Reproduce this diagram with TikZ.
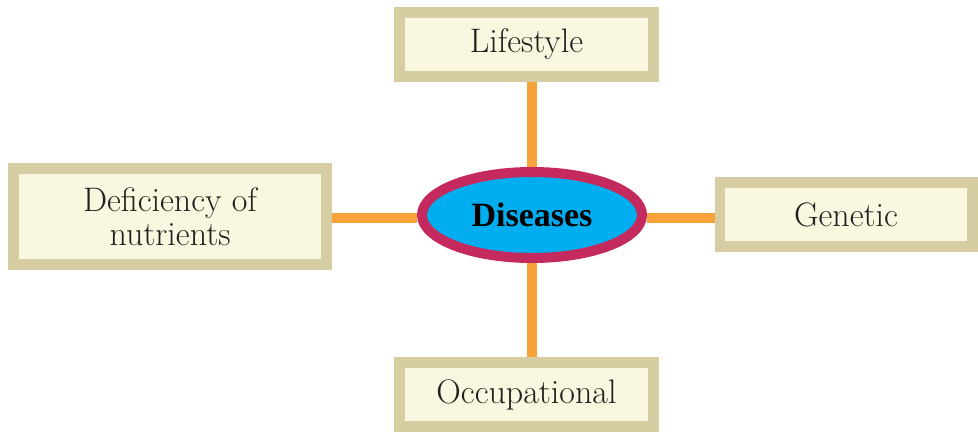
\documentclass[tikz,border=0pt]{standalone}
\usepackage{fontspec}
\newfontfamily\headfont{Liberation Serif}
\usetikzlibrary{shapes.geometric,backgrounds}
\definecolor{boxline}{RGB}{214,205,163}
\definecolor{boxfill}{RGB}{250,247,224}
\definecolor{linkline}{RGB}{248,163,58}
\definecolor{hubfill}{RGB}{0,173,238}
\definecolor{hubline}{RGB}{197,42,94}
\definecolor{txt}{RGB}{35,31,32}

\begin{document}
\begin{tikzpicture}[
  x=0.75pt, y=-0.75pt,
  box/.style={draw=boxline, fill=boxfill, line width=8pt, align=center,
              text=txt, inner sep=0pt, font=\fontsize{25.5}{25.5}\selectfont},
  hub/.style={ellipse, draw=hubline, fill=hubfill, line width=7.5pt,
              inner sep=0pt, minimum width=165pt, minimum height=64.5pt,
              font=\headfont\bfseries\fontsize{25.5}{28}\selectfont},
  link/.style={draw=linkline, line width=7.5pt}
]
\useasboundingbox (0,0) rectangle (978,433);

% centre
\node[hub] (dis) at (532,215) {Diseases};

% the four causes
\node[box, minimum width=190.75pt, minimum height=48.25pt] (life) at (526.5,44.5) {Lifestyle};
\node[box, minimum width=190.75pt, minimum height=48.25pt] (occ) at (526.5,394.5) {Occupational};
\node[box, minimum width=235pt, minimum height=72.25pt] (defi) at (170,216.5) {Deficiency of\\nutrients};
\node[box, minimum width=189.25pt, minimum height=48.25pt] (gen) at (846,214.5) {Genetic};

% links, behind the shapes
\begin{scope}[on background layer]
\draw[link] (dis.north) -- (dis.north |- life.south);
\draw[link] (dis.south) -- (dis.south |- occ.north);
\draw[link] ([yshift=-2.25pt]dis.west) -- ([yshift=-2.25pt]dis.west -| defi.east);
\draw[link] ([yshift=-2.25pt]dis.east) -- ([yshift=-2.25pt]dis.east -| gen.west);
\end{scope}
\end{tikzpicture}
\end{document}
